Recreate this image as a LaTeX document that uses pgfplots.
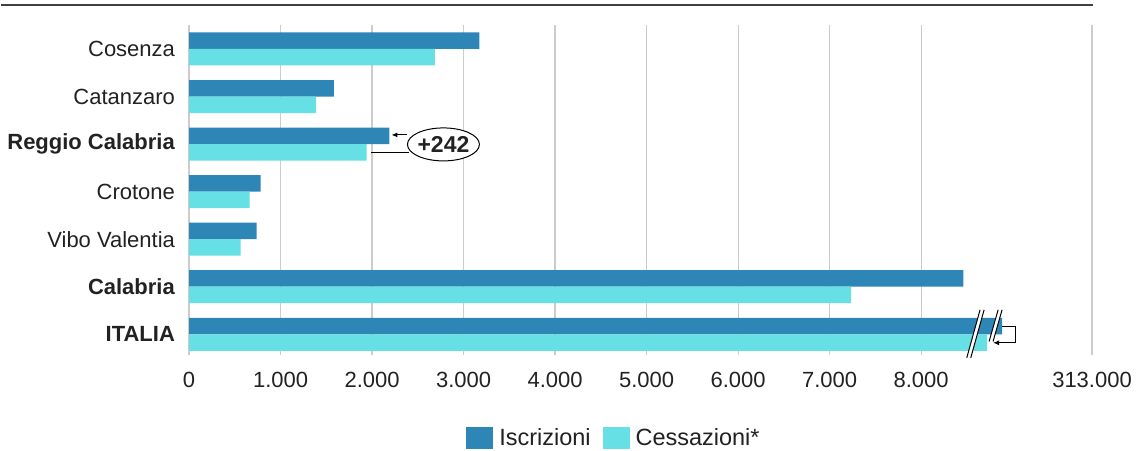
\documentclass[border=0pt]{standalone}
\usepackage{pgfplots}
\pgfplotsset{compat=1.18}
\usepackage{fontspec}
\setmainfont{Liberation Sans}
\usetikzlibrary{arrows.meta}
\definecolor{iscr}{HTML}{2E86B6}
\definecolor{cess}{HTML}{66E0E4}
\definecolor{gridc}{HTML}{CCCCCC}
\definecolor{txt}{HTML}{222222}
\pgfplotstableread{
y isc ces
0 8885 8721
1 8462 7236
2 737 562
3 781 661
4 2190 1939
5 1581 1389
6 3173 2687
}\datatab
\begin{document}
\begin{tikzpicture}
\begin{axis}[
  name=ax,
  scale only axis, width=903.5pt, height=330pt,
  clip=false,
  xbar, bar width=16.5pt,
  xmin=0, xmax=9868, ymin=-0.431, ymax=6.504,
  xtick={0,1000,2000,3000,4000,5000,6000,7000,8000,9868},
  xticklabels={0,1.000,2.000,3.000,4.000,5.000,6.000,7.000,8.000,313.000},
  ytick={0,1,2,3,4,5,6},
  yticklabels={\textbf{ITALIA},\textbf{Calabria},Vibo Valentia,Crotone,\textbf{Reggio Calabria},Catanzaro,Cosenza},
  major tick length=0pt,
  axis line style={draw=none},
  xmajorgrids, grid style={gridc, line width=1.2pt},
  tick label style={font=\fontsize{22}{26}\selectfont, text=txt},
  yticklabel style={inner sep=0pt, xshift=-14pt},
  xticklabel style={inner sep=0pt, yshift=-17pt},
  legend style={at={(axis description cs:0.4705,-0.2515)}, anchor=center, draw=none,
    font=\fontsize{23.5}{27}\selectfont, text=txt, legend columns=2,
    /tikz/every odd column/.append style={column sep=4pt},
    /tikz/every even column/.append style={column sep=10pt}},
  legend image code/.code={\fill[#1,draw=none] (0pt,-11pt) rectangle (27pt,11pt);},
]
\addplot[fill=iscr, draw=none, bar shift=8.25pt] table[x=isc,y=y]{\datatab};
\addplot[fill=cess, draw=none, bar shift=-8.25pt] table[x=ces,y=y]{\datatab};
\legend{Iscrizioni,Cessazioni*}
% frame coordinates
\coordinate (bbsw) at (rel axis cs:-0.2086,-0.2879);
\coordinate (bbne) at (rel axis cs:1.0609,1.0758);
% top rule
\draw[line width=1.5pt, color=black!75] (rel axis cs:-0.2086,1.0606) -- (rel axis cs:1.0011,1.0606);
% break marks
\fill[white] (rel axis cs:0.8613,-0.0091) -- (rel axis cs:0.8760,0.1364) -- (rel axis cs:0.8805,0.1364) -- (rel axis cs:0.8657,-0.0091) -- cycle;
\draw[line width=1pt] (rel axis cs:0.8613,-0.0091) -- (rel axis cs:0.8760,0.1364);
\draw[line width=1pt] (rel axis cs:0.8657,-0.0091) -- (rel axis cs:0.8805,0.1364);
\fill[white] (rel axis cs:0.8860,0.0403) -- (rel axis cs:0.8960,0.1364) -- (rel axis cs:0.9004,0.1364) -- (rel axis cs:0.8904,0.0403) -- cycle;
\draw[line width=1pt] (rel axis cs:0.8860,0.0403) -- (rel axis cs:0.8960,0.1364);
\draw[line width=1pt] (rel axis cs:0.8904,0.0403) -- (rel axis cs:0.9004,0.1364);
% bracket arrow
\draw[line width=1pt, -{Latex[length=6pt,width=5pt]}] (rel axis cs:0.9004,0.0848) -- (rel axis cs:0.9148,0.0848) -- (rel axis cs:0.9148,0.0364) -- (rel axis cs:0.8904,0.0364);
% Reggio annotation
\draw[line width=1pt, fill=white] (rel axis cs:0.2817,0.6379) ellipse [x radius=36pt, y radius=16.5pt];
\node[font=\fontsize{23}{27}\selectfont\bfseries, text=txt] at (rel axis cs:0.2817,0.6379) {+242};
\draw[line width=1pt, -{Latex[length=6pt,width=5pt]}] (rel axis cs:0.2418,0.6667) -- (rel axis cs:0.2241,0.6667);
\draw[line width=1pt] (rel axis cs:0.2440,0.6121) -- (rel axis cs:0.2020,0.6121);
\end{axis}
\path (bbsw) rectangle (bbne);
\end{tikzpicture}
\end{document}
